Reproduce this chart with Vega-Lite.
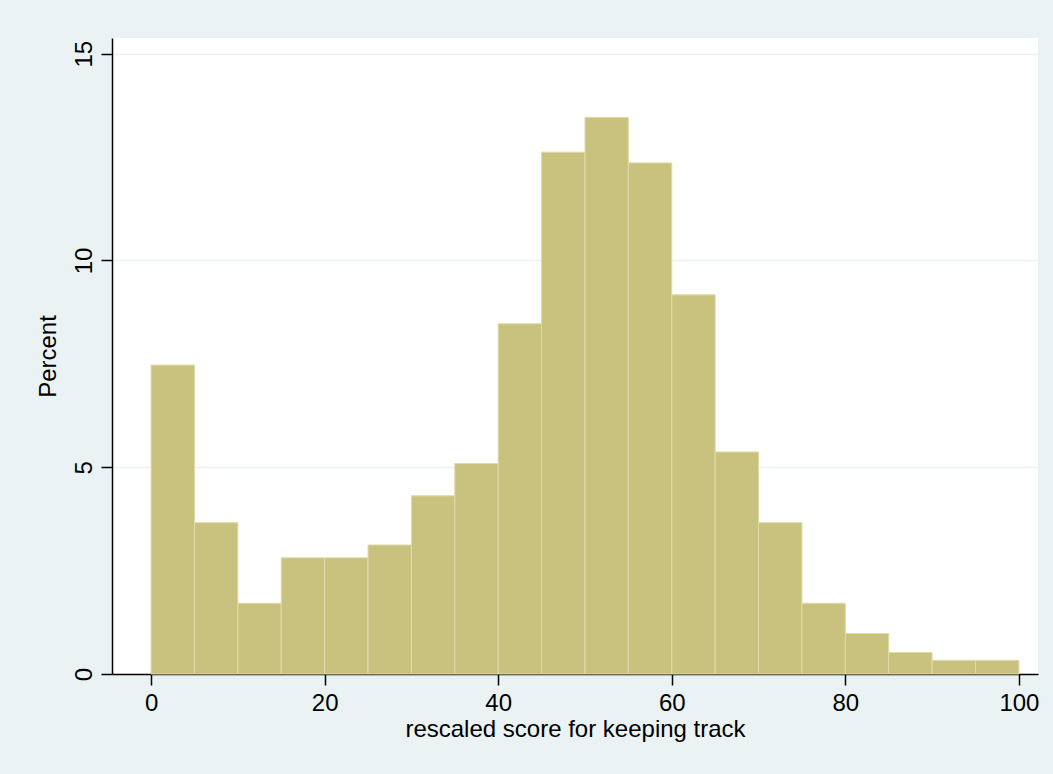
{
  "$schema": "https://vega.github.io/schema/vega-lite/v6.json",
  "width": 926,
  "height": 636,
  "autosize": {"type": "none"},
  "padding": {"left": 112, "top": 38, "right": 15, "bottom": 100},
  "background": "#EAF2F3",
  "view": {"fill": "white", "stroke": null},
  "config": {
    "font": "Liberation Sans",
    "axis": {
      "labelFont": "Liberation Sans",
      "titleFont": "Liberation Sans",
      "labelFontSize": 24,
      "titleFontSize": 24,
      "labelColor": "black",
      "titleColor": "black",
      "titleFontWeight": "normal",
      "domainColor": "black",
      "domainWidth": 1.5,
      "tickColor": "black",
      "tickWidth": 1.5,
      "tickSize": 11,
      "gridColor": "#EAF2F3",
      "gridWidth": 1.5
    }
  },
  "data": {
    "values": [
      {"bin_start": 0, "bin_end": 5, "percent": 7.47},
      {"bin_start": 5, "bin_end": 10, "percent": 3.66},
      {"bin_start": 10, "bin_end": 15, "percent": 1.71},
      {"bin_start": 15, "bin_end": 20, "percent": 2.81},
      {"bin_start": 20, "bin_end": 25, "percent": 2.81},
      {"bin_start": 25, "bin_end": 30, "percent": 3.12},
      {"bin_start": 30, "bin_end": 35, "percent": 4.31},
      {"bin_start": 35, "bin_end": 40, "percent": 5.09},
      {"bin_start": 40, "bin_end": 45, "percent": 8.47},
      {"bin_start": 45, "bin_end": 50, "percent": 12.62},
      {"bin_start": 50, "bin_end": 55, "percent": 13.46},
      {"bin_start": 55, "bin_end": 60, "percent": 12.36},
      {"bin_start": 60, "bin_end": 65, "percent": 9.17},
      {"bin_start": 65, "bin_end": 70, "percent": 5.37},
      {"bin_start": 70, "bin_end": 75, "percent": 3.66},
      {"bin_start": 75, "bin_end": 80, "percent": 1.71},
      {"bin_start": 80, "bin_end": 85, "percent": 0.98},
      {"bin_start": 85, "bin_end": 90, "percent": 0.52},
      {"bin_start": 90, "bin_end": 95, "percent": 0.33},
      {"bin_start": 95, "bin_end": 100, "percent": 0.33}
    ]
  },
  "mark": {"type": "rect", "fill": "#C9C27E", "stroke": "#DFDBA8", "strokeWidth": 1},
  "encoding": {
    "x": {
      "field": "bin_start",
      "type": "quantitative",
      "scale": {"domain": [-4.5, 102.2], "nice": false, "zero": false},
      "axis": {
        "title": "rescaled score for keeping track",
        "values": [0, 20, 40, 60, 80, 100],
        "grid": false,
        "labelPadding": 6,
        "titlePadding": 2,
        "labelFlush": false
      }
    },
    "x2": {"field": "bin_end"},
    "y": {
      "field": "percent",
      "type": "quantitative",
      "scale": {"domain": [0, 15.38], "nice": false},
      "axis": {
        "title": "Percent",
        "values": [0, 5, 10, 15],
        "grid": true,
        "labelAngle": -90,
        "labelAlign": "center",
        "labelBaseline": "alphabetic",
        "labelPadding": 10,
        "titlePadding": 12,
        "labelFlush": false
      }
    },
    "y2": {"datum": 0}
  }
}
